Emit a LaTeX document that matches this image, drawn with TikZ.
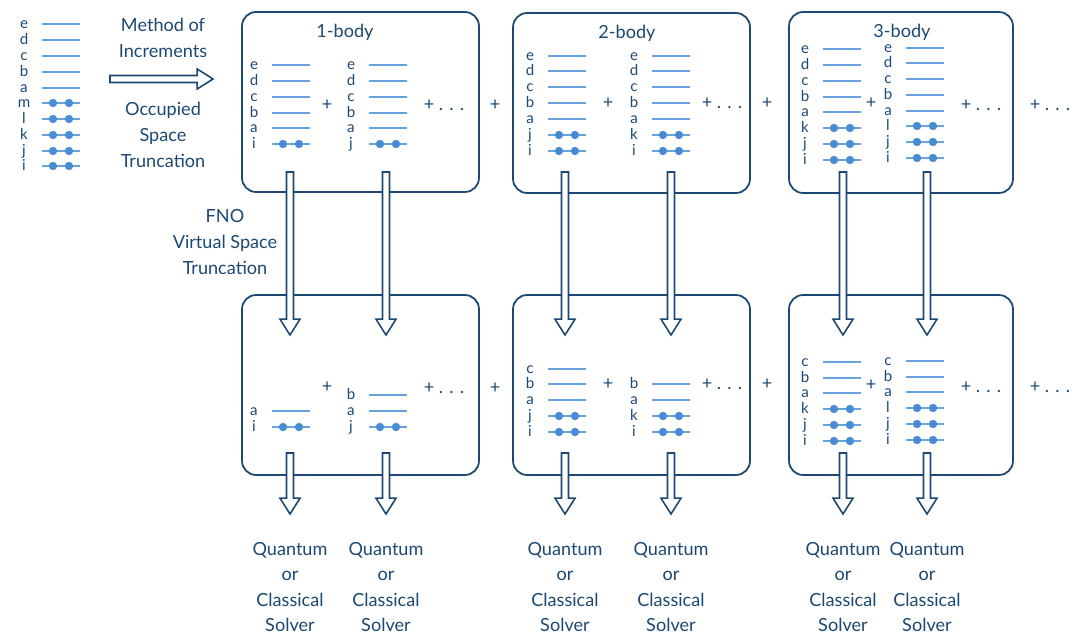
\documentclass[tikz,border=0pt]{standalone}
\usepackage{fontspec}
\setmainfont{Lato}
\usetikzlibrary{calc}
\definecolor{navy}{RGB}{28,72,115}
\definecolor{lvlblue}{RGB}{104,163,221}
\definecolor{dotblue}{RGB}{72,141,212}

\newcommand{\orbcol}[4]{%
  \foreach \yy/\olab in {#3}{
    \node[orblbl] (#1\olab) at (#2,\yy) {\olab};
    \draw[level] (#2+18,\yy) -- ++(38,0);
  }
  \foreach \yy/\olab in {#4}{
    \node[orblbl] (#1\olab) at (#2,\yy) {\olab};
    \draw[level] (#2+18,\yy) -- ++(38,0);
    \fill[dotblue] (#2+29,\yy) circle (2.4pt) (#2+45,\yy) circle (2.4pt);
  }%
}

\begin{document}
\begin{tikzpicture}[x=0.02cm, y=-0.02cm,
  bigtxt/.style={text=navy, font=\fontsize{10.3}{14.6}\selectfont, align=center, inner sep=0pt},
  orblbl/.style={text=navy, font=\fontsize{8.6}{9}\selectfont, anchor=mid, inner sep=0pt},
  level/.style={draw=lvlblue, line width=1pt},
  body/.style={draw=navy, line width=1pt, rounded corners=8pt, minimum width=4.74cm, minimum height=3.6cm},
  hollow/.style={draw=navy, fill=white, line width=0.9pt, line join=miter, to path={
    ($(\tikztostart)!2pt!90:(\tikztotarget)$)
    -- ($(\tikztotarget)!9pt!(\tikztostart)!2pt!-90:(\tikztostart)$)
    -- ($(\tikztotarget)!9pt!(\tikztostart)!5.7pt!-90:(\tikztostart)$)
    -- (\tikztotarget)
    -- ($(\tikztotarget)!9pt!(\tikztostart)!5.7pt!90:(\tikztostart)$)
    -- ($(\tikztotarget)!9pt!(\tikztostart)!2pt!90:(\tikztostart)$)
    -- ($(\tikztostart)!2pt!-90:(\tikztotarget)$) -- cycle}}]
\useasboundingbox (0,0) rectangle (1089,642);

\orbcol{L}{24}{24/e,40/d,56/c,72/b,88/a}{103/m,119/l,135/k,151/j,166/i}
\node[bigtxt] (moi) at (163,38) {Method of\\Increments};
\node[bigtxt] (ost) at (163,135) {Occupied\\Space\\Truncation};
\coordinate (moi1) at (110,79);
\coordinate (moi2) at (213,79);
\draw[hollow] (moi1) to (moi2);

\node[body] (box1) at (360.5,102) {};
\node[body] (box2) at (631.5,103) {};
\node[body, minimum width=4.48cm, minimum height=3.62cm] (box3) at (901,102.5) {};
\node[body] (box4) at (360.5,385) {};
\node[body] (box5) at (631.5,385) {};
\node[body, minimum width=4.48cm] (box6) at (901,385) {};

\node[bigtxt] (t1) at (345,32) {1-body};
\node[bigtxt] (t2) at (627,33) {2-body};
\node[bigtxt] (t3) at (902,32) {3-body};

\orbcol{A1}{254}{65/e,81/d,97/c,113/b,128/a}{144/i}
\orbcol{A2}{351}{65/e,81/d,97/c,113/b,128/a}{144/j}
\orbcol{B1}{530}{56/e,71/d,87/c,103/b,119/a}{135/j,151/i}
\orbcol{B2}{634}{56/e,71/d,87/c,103/b,119/a}{135/k,151/i}
\orbcol{C1}{805}{49/e,65/d,81/c,97/b,112/a}{128/k,144/j,160/i}
\orbcol{C2}{888}{48/e,63/d,79/c,95/b,111/a}{126/l,142/j,158/i}

\orbcol{D1}{254}{411/a}{427/i}
\orbcol{D2}{351}{395/b,411/a}{427/j}
\orbcol{E1}{530}{369/c,384/b,400/a}{416/j,432/i}
\orbcol{E2}{634}{384/b,400/a}{416/k,432/i}
\orbcol{F1}{805}{362/c,378/b,393/a}{409/k,425/j,441/i}
\orbcol{F2}{888}{361/c,377/b,392/a}{408/l,424/j,440/i}

\node[bigtxt] (p1) at (327,105) {+};
\node[bigtxt] (p2) at (444,105) {+ . . .};
\node[bigtxt] (p3) at (495,105) {+};
\node[bigtxt] (p4) at (608,103) {+};
\node[bigtxt] (p5) at (722,103) {+ . . .};
\node[bigtxt] (p6) at (767,103) {+};
\node[bigtxt] (p7) at (871,103) {+};
\node[bigtxt] (p8) at (981,105) {+ . . .};
\node[bigtxt] (p9) at (1050,105) {+ . . .};
\node[bigtxt] (q1) at (327,387) {+};
\node[bigtxt] (q2) at (444,388) {+ . . .};
\node[bigtxt] (q3) at (495,388) {+};
\node[bigtxt] (q4) at (608,384) {+};
\node[bigtxt] (q5) at (722,384) {+ . . .};
\node[bigtxt] (q6) at (767,384) {+};
\node[bigtxt] (q7) at (871,385) {+};
\node[bigtxt] (q8) at (981,387) {+ . . .};
\node[bigtxt] (q9) at (1050,387) {+ . . .};

\node[bigtxt] (fno) at (225,242) {FNO\\Virtual Space\\Truncation};

\foreach \ax [count=\k] in {290,386,565,671,843,927}{
  \coordinate (top\k) at (\ax,172);
  \coordinate (mid\k) at (\ax,335);
  \coordinate (low\k) at (\ax,453);
  \coordinate (end\k) at (\ax,514);
  \node[bigtxt] (solver\k) at (\ax,587) {Quantum\\or\\Classical\\Solver};
  \draw[hollow] (top\k) to (mid\k);
  \draw[hollow] (low\k) to (end\k);
}
\end{tikzpicture}
\end{document}
